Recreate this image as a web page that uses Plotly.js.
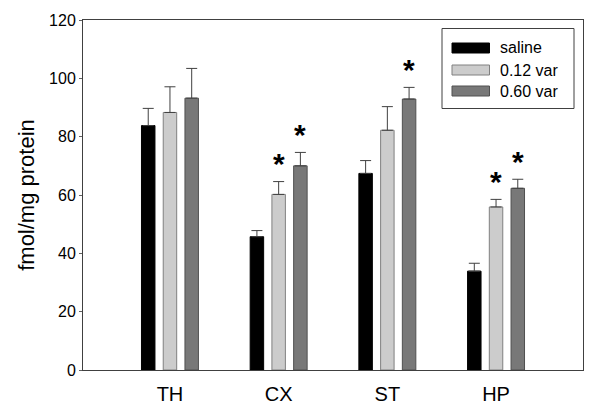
<!DOCTYPE html>
<html>
<head>
<meta charset="utf-8">
<script src="https://cdn.plot.ly/plotly-3.0.1.min.js"></script>
<style>html,body{margin:0;padding:0;background:#fff;}#chart{width:600px;height:420px;}</style>
</head>
<body>
<div id="chart"></div>
<script>
// ---- data ----
var regions = ["TH", "CX", "ST", "HP"];
var seriesNames = ["saline", "0.12 var", "0.60 var"];
var salineMean = [83.8, 45.7, 67.4, 33.9];
var salineErr  = [5.9, 2.1, 4.4, 2.7];
var lowMean    = [88.3, 60.2, 82.2, 55.9];
var lowErr     = [8.8, 4.4, 8.1, 2.6];
var highMean   = [93.2, 70.0, 92.9, 62.3];
var highErr    = [10.2, 4.6, 4.0, 3.1];
// significance flags (asterisk) per series per region
var salineSig  = [false, false, false, false];
var lowSig     = [false, true, false, true];
var highSig    = [false, true, true, true];
var yTickVals  = [0, 20, 40, 60, 80, 100, 120];

// ---- styles ----
var fills   = ["#000000", "#cccccc", "#787878"];
var borders = ["#000000", "#808080", "#505050"];
var means = [salineMean, lowMean, highMean];
var errs  = [salineErr, lowErr, highErr];
var sigs  = [salineSig, lowSig, highSig];
var FONT = "Liberation Sans, Arial, Helvetica, sans-serif";

var traces = means.map(function (m, i) {
  return {
    type: "bar",
    name: seriesNames[i],
    x: regions,
    y: m,
    marker: { color: fills[i], line: { color: borders[i], width: 1 } },
    error_y: {
      type: "data", symmetric: false, array: errs[i],
      arrayminus: errs[i].map(function () { return 0; }),
      color: "#404040", thickness: 1, width: 5.5
    },
    showlegend: false,
    hoverinfo: "skip"
  };
});

// asterisks
var annotations = [];
var offsets = [-1, 0, 1];
sigs.forEach(function (s, i) {
  s.forEach(function (flag, j) {
    if (!flag) return;
    annotations.push({
      x: regions[j], y: means[i][j] + errs[i][j],
      xref: "x", yref: "y",
      text: "<b>*</b>", showarrow: false,
      font: { family: FONT, size: 30, color: "#000" },
      xshift: offsets[i] * 21.7, yshift: 18,
      yanchor: "middle", xanchor: "center"
    });
  });
});

// custom legend (paper coordinates), plot area: x 83..583, y 20..370
var L = 83, R = 583, T = 20, B = 370;
function px(x) { return (x - L) / (R - L); }
function py(y) { return (B - y) / (B - T); }
var shapes = [{
  type: "rect", xref: "paper", yref: "paper",
  x0: px(442), x1: px(574), y0: py(108.5), y1: py(28.5),
  line: { color: "#404040", width: 1 }, fillcolor: "rgba(0,0,0,0)"
}];
var rowY = [48, 70, 91];
seriesNames.forEach(function (nm, i) {
  shapes.push({
    type: "rect", xref: "paper", yref: "paper",
    x0: px(452), x1: px(489.5), y0: py(rowY[i] + 5), y1: py(rowY[i] - 5),
    line: { color: borders[i], width: 1 }, fillcolor: fills[i]
  });
  annotations.push({
    xref: "paper", yref: "paper", x: px(498), y: py(rowY[i]),
    text: nm, showarrow: false, xanchor: "left", yanchor: "middle",
    font: { family: FONT, size: 16, color: "#000" }
  });
});

var layout = {
  width: 600, height: 420,
  margin: { l: L, r: 600 - R, t: T, b: 420 - B },
  paper_bgcolor: "#fff", plot_bgcolor: "#fff",
  barmode: "group", bargap: 0.4, bargroupgap: 0.38,
  showlegend: false,
  font: { family: FONT, color: "#000" },
  xaxis: {
    type: "category", range: [-0.8, 3.8],
    showline: true, mirror: true, linecolor: "#404040", linewidth: 1,
    ticks: "", showgrid: false, zeroline: false, ticklabelstandoff: 6,
    tickfont: { family: FONT, size: 20, color: "#000" }
  },
  yaxis: {
    range: [0, 120], tickvals: yTickVals,
    showline: true, mirror: true, linecolor: "#404040", linewidth: 1,
    ticks: "outside", ticklen: 3, tickcolor: "#606060",
    showgrid: false, zeroline: false,
    tickfont: { family: FONT, size: 16, color: "#000" },
    title: { text: "fmol/mg protein", font: { family: FONT, size: 22, color: "#000" }, standoff: 8 }
  },
  shapes: shapes,
  annotations: annotations
};

Plotly.newPlot("chart", traces, layout, { staticPlot: true, displayModeBar: false });
</script>
</body>
</html>
